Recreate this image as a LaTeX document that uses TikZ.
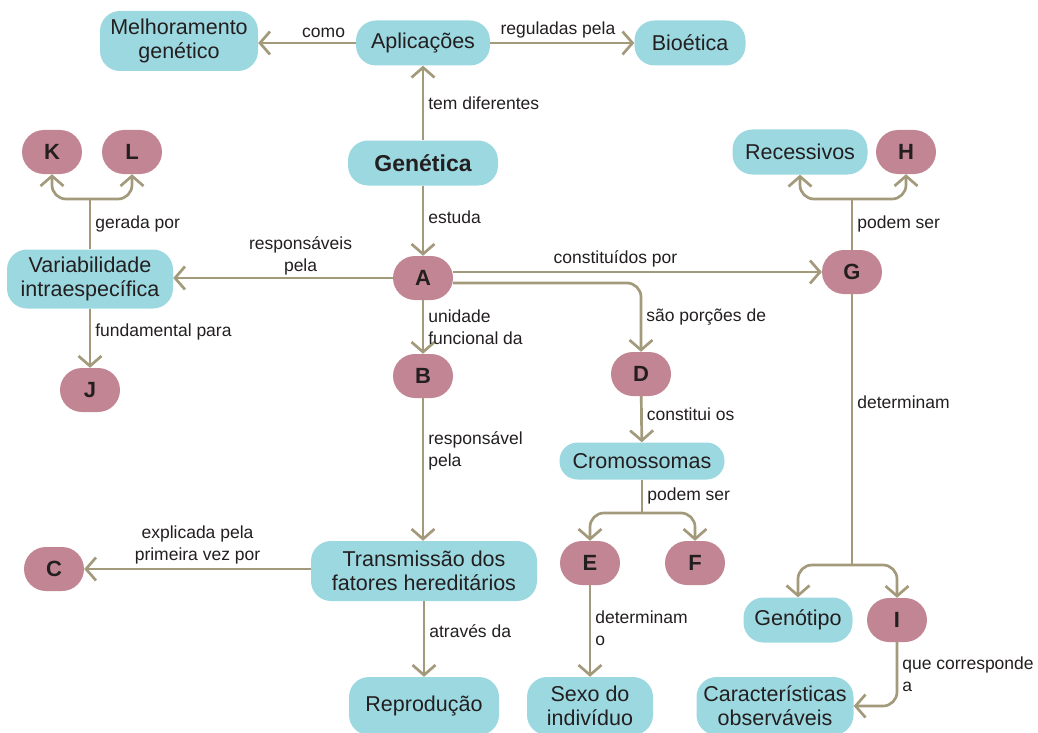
\documentclass[tikz,border=0pt]{standalone}
\usepackage{fontspec}
\setmainfont{Liberation Sans}
\usetikzlibrary{positioning, arrows.meta, calc}

\definecolor{conceptfill}{HTML}{9CD8E0}
\definecolor{letterfill}{HTML}{C28593}
\definecolor{linkcol}{HTML}{A39A7C}
\definecolor{inkcol}{HTML}{231F20}

\begin{document}
\begin{tikzpicture}[
  x=1pt, y=-1pt,
  font=\fontsize{21.5}{24}\selectfont, text=inkcol,
  >={Straight Barb[length=10pt, width=23pt]},
  concept/.style={fill=conceptfill, rounded corners=20pt, align=center, inner sep=2pt,
                  minimum height=45pt},
  letter/.style={fill=letterfill, rounded corners=22pt, minimum width=60pt, minimum height=44pt,
                 font=\fontsize{22}{24}\selectfont\bfseries},
  lbl/.style={font=\fontsize{17.5}{22}\selectfont, align=left, inner sep=4pt},
  link/.style={->, line width=2.7pt, draw=linkcol, rounded corners=14pt},
  stem/.style={line width=2.7pt, draw=linkcol},
]
\useasboundingbox (0,0) rectangle (1038,733);

% ================= top: applications =================
\node[concept, minimum width=158pt, minimum height=60pt] (mel) at (179,41) {Melhoramento\\genético};
\node[concept, minimum width=134pt] (apl) at (423,43) {Aplicações};
\node[concept, minimum width=111pt] (bio) at (690,43) {Bioética};
\node[concept, minimum width=150pt, font=\fontsize{23}{26}\selectfont\bfseries] (gen) at (423,163) {Genética};

\draw[link] (apl.west) -- node[lbl, above, pos=0.33] {como} (apl.west -| mel.east);
\draw[link] (apl) -- node[lbl, above, pos=0.47] {reguladas pela} (bio);
\draw[link] (gen) -- node[lbl, right] {tem diferentes} (apl);

% ================= centre column: A, B =================
\node[letter] (A) at (423,278) {A};
\node[letter] (B) at (423,376) {B};
\node[concept, minimum width=226pt, minimum height=60pt] (tra) at (424,571) {Transmissão dos\\fatores hereditários};
\node[letter] (C) at (54,569) {C};
\node[concept, minimum width=150pt, minimum height=58pt] (rep) at (424,706) {Reprodução};

\draw[link] (gen) -- node[lbl, right, pos=0.45] {estuda} (A);
\draw[link] (A) -- node[lbl, right] {unidade\\funcional da} (B);
\draw[link] (B) -- node[lbl, right, pos=0.37] {responsável\\pela} (B |- tra.north);
\draw[link] (tra.west |- C) -- node[lbl, above, align=center, pos=0.5] {explicada pela\\primeira vez por} (C);
\draw[link] (tra) -- node[lbl, right, pos=0.4] {através da} (rep);

% ================= left: variability =================
\node[concept, minimum width=166pt, minimum height=59pt] (var) at (90,279) {Variabilidade\\intraespecífica};
\node[letter] (K) at (52,152) {K};
\node[letter] (L) at (132,152) {L};
\node[letter] (J) at (90,390) {J};
\coordinate (kl) at (90,199);

\draw[link] (A.west) -- node[lbl, above, align=center, pos=0.42, yshift=-2pt] {responsáveis\\pela} (A.west -| var.east);
\draw[stem] (var.north) -- node[lbl, right] {gerada por} (kl);
\draw[link] (kl) -| (K.south);
\draw[link] (kl) -| (L.south);
\draw[link] (var) -- node[lbl, right, pos=0.4] {fundamental para} (J);

% ================= chromosomes: D, E, F =================
\node[letter] (D) at (641,374) {D};
\node[concept, minimum width=165pt, minimum height=37pt, rounded corners=18pt] (crom) at (642,461) {Cromossomas};
\node[letter] (E) at (590,563) {E};
\node[letter] (F) at (695,563) {F};
\node[concept, minimum width=126pt, minimum height=58pt] (sexo) at (590,706) {Sexo do\\indivíduo};
\coordinate (ef) at (642,513);

\draw[link] ($(A.east)+(0,5)$) -| node[lbl, right, pos=0.75] {são porções de} (D.north);
\draw[link] (D) -- node[lbl, right, pos=0.4] {constitui os} (crom);
\draw[stem] (crom.south) -- node[lbl, right] {podem ser} (ef);
\draw[link] (ef) -| (E.north);
\draw[link] (ef) -| (F.north);
\draw[link] (E) -- node[lbl, right, pos=0.47] {determinam\\o} (sexo);

% ================= right: genes, G =================
\node[letter] (G) at (852,272) {G};
\node[concept, minimum width=135pt] (rec) at (800,152) {Recessivos};
\node[letter] (H) at (906,152) {H};
\node[concept, minimum width=109pt] (genot) at (798,620) {Genótipo};
\node[letter] (I) at (897,620) {I};
\node[concept, minimum width=157pt, minimum height=58pt] (car) at (775,706) {Características\\observáveis};
\coordinate (gh) at (852,199);
\coordinate (gi) at (852,565);

\draw[link] (A.east |- G.west) -- node[lbl, above, pos=0.44] {constituídos por} (G.west);
\draw[stem] (G.north) -- node[lbl, right] {podem ser} (gh);
\draw[link] (gh) -| (rec.south);
\draw[link] (gh) -| (H.south);
\draw[stem] (G.south) -- node[lbl, right, pos=0.4] {determinam} (gi);
\draw[link] (gi) -| (genot.north);
\draw[link] (gi) -| (I.north);
\draw[link] (I.south) |- node[lbl, right, pos=0.25] {que corresponde\\a} (car.east);

\end{tikzpicture}
\end{document}
